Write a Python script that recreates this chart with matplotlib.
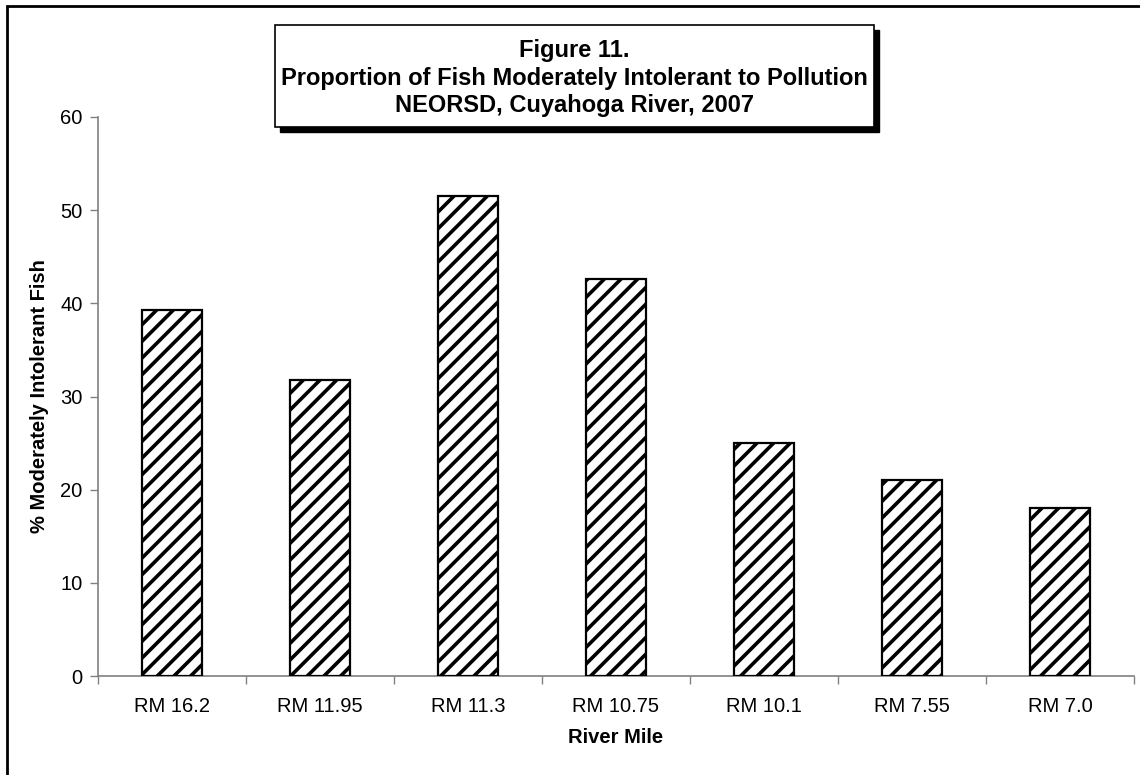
import matplotlib
matplotlib.use("Agg")
import matplotlib.pyplot as plt
from matplotlib.patches import Rectangle

plt.rcParams['font.family'] = ['Liberation Sans', 'DejaVu Sans']
plt.rcParams['hatch.linewidth'] = 2.6

# data
sites = ["RM 16.2", "RM 11.95", "RM 11.3", "RM 10.75", "RM 10.1", "RM 7.55", "RM 7.0"]
pct_intolerant = [39.3, 31.8, 51.5, 42.6, 25.0, 21.0, 18.0]
y_ticks = [0, 10, 20, 30, 40, 50, 60]

W, H = 1140, 775
fig = plt.figure(figsize=(W / 100, H / 100), dpi=100)
ax = fig.add_axes([98 / W, 1 - 676 / H, (1134 - 98) / W, (676 - 117) / H])

x = list(range(len(sites)))
ax.bar(x, pct_intolerant, width=0.405, color="white", edgecolor="black",
       linewidth=1.6, hatch="//", zorder=3)

ax.set_xlim(-0.5, len(sites) - 0.5)
ax.set_ylim(0, 60)
ax.set_yticks(y_ticks)
ax.set_yticklabels([str(v) for v in y_ticks], fontsize=14.5)
ax.set_xticks([i + 0.5 for i in range(-1, len(sites))], minor=False)
ax.set_xticklabels([""] * (len(sites) + 1))
ax.set_xticks(x, minor=True)
ax.set_xticklabels(sites, minor=True, fontsize=14.5)
ax.tick_params(axis="x", which="minor", length=0, pad=15)
ax.tick_params(axis="x", which="major", length=6, width=1, color="#808080", direction="out")
ax.tick_params(axis="y", length=6, width=1, color="#808080", direction="out", pad=5)

for side in ["top", "right"]:
    ax.spines[side].set_visible(False)
ax.spines["left"].set_color("#808080")
ax.spines["bottom"].set_color("#808080")
ax.spines["left"].set_linewidth(1.2)
ax.spines["bottom"].set_linewidth(1.2)

ax.set_xlabel("River Mile", fontsize=14.5, fontweight="bold", labelpad=9)
ax.set_ylabel("% Moderately Intolerant Fish", fontsize=14.5, fontweight="bold", labelpad=8)

# outer frame (only left and top edges fall inside the picture)
fig.add_artist(Rectangle((7 / W, -0.05), 1.2, 1 - 6 / H + 0.05,
                         transform=fig.transFigure, fill=False,
                         edgecolor="black", linewidth=2, clip_on=False))

# title box with drop shadow
bx0, bx1, by0, by1 = 275, 874, 25, 127
fig.add_artist(Rectangle(((bx0 + 5) / W, 1 - (by1 + 5) / H), (bx1 - bx0) / W, (by1 - by0) / H,
                         transform=fig.transFigure, facecolor="black", edgecolor="black", zorder=5))
fig.add_artist(Rectangle((bx0 / W, 1 - by1 / H), (bx1 - bx0) / W, (by1 - by0) / H,
                         transform=fig.transFigure, facecolor="white", edgecolor="black",
                         linewidth=1.2, zorder=6))
fig.text((bx0 + bx1) / 2 / W, 1 - 78 / H,
         "Figure 11.\nProportion of Fish Moderately Intolerant to Pollution\nNEORSD, Cuyahoga River, 2007",
         ha="center", va="center", fontsize=17, fontweight="bold", linespacing=1.24, zorder=7)

fig.savefig("out.png", dpi=100)
